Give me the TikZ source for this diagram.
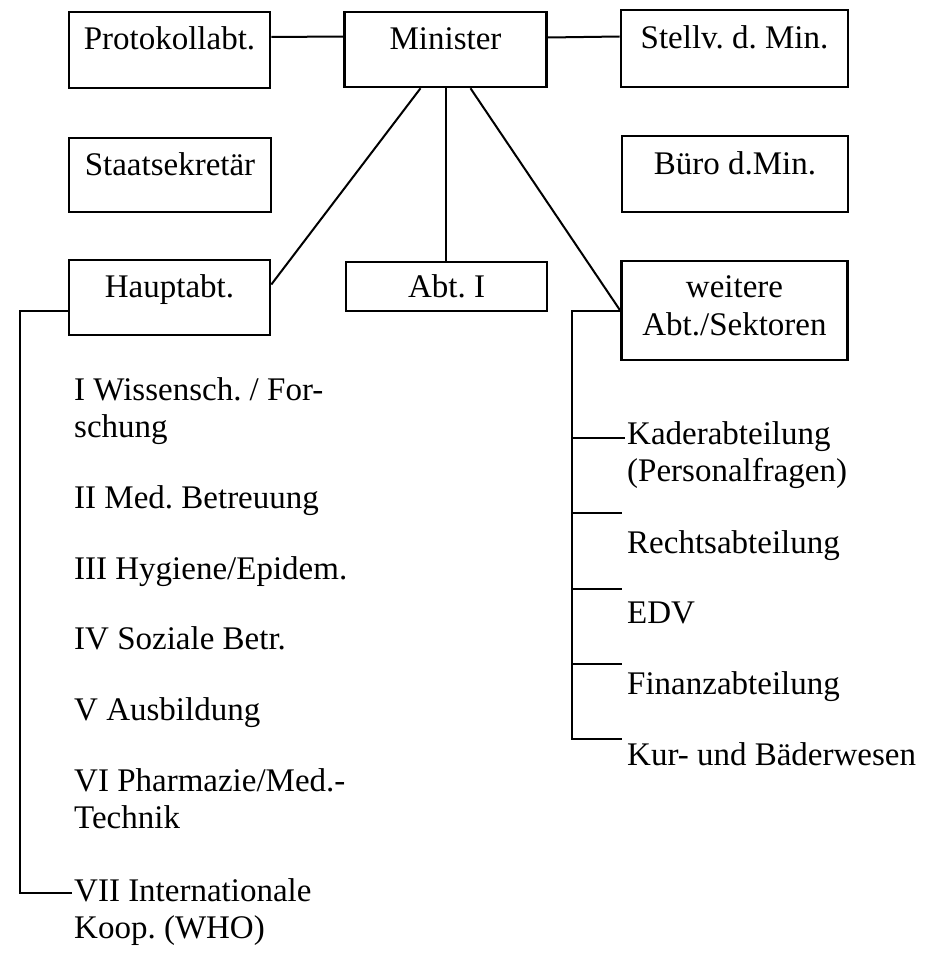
\documentclass[tikz,border=0pt]{standalone}
\usepackage{fontspec}
\setmainfont{Liberation Serif}
\frenchspacing
\usetikzlibrary{shapes}

\tikzset{
  unit/.style={rectangle, draw, line width=2.6pt, inner sep=0pt, font=\fontsize{33}{38}\selectfont},
  tall/.style={text height=#1, text depth=#1},
  item/.style={anchor=base west, align=left, inner sep=0pt, font=\fontsize{33}{37}\selectfont},
  link/.style={line width=2pt}
}

\begin{document}
\begin{tikzpicture}[x=1pt, y=-1pt]
  \useasboundingbox (0,0) rectangle (938,966);
  	\path (169.5,50) node[unit, tall=38pt, minimum width=201pt](prot){Protokollabt.}
  		(445.5,49.5) node[unit, tall=37.5pt, minimum width=202pt](min){Minister}
  		(734.5,48.5) node[unit, tall=38.5pt, minimum width=227pt](stv){Stellv. d. Min.}
  		(170,175) node[unit, tall=37pt, minimum width=202pt](sts){Staatsekret\"ar}
  		(735,174) node[unit, tall=38pt, minimum width=226pt](buero){B\"uro d.Min.}
  		(169.5,297.5) node[unit, tall=37.5pt, minimum width=201pt](haupt){Hauptabt.}
  		(446.5,286.5) node[unit, minimum width=201pt, minimum height=49pt](abt1){Abt. I}
  		(734.5,310.5) node[unit, align=center, text depth=10pt, minimum width=226pt, minimum height=99pt](weit){weitere\\Abt./Sektoren};

  	\path (74,437) node[item](wiss){I Wissensch. / For-\\schung}
			(74,508) node[item](med){II Med. Betreuung}
			(74,579) node[item](hyg){III Hygiene/Epidem.}
			(74,649) node[item](soz){IV Soziale Betr.}
			(74,720) node[item](ausb){V Ausbildung}
			(74,828) node[item](pharm){VI Pharmazie/Med.-\\Technik}
			(74,938) node[item](intl){VII Internationale\\Koop. (WHO)};

  	\path (627,481) node[item](kader){Kaderabteilung\\(Personalfragen)}
			(627,553) node[item](recht){Rechtsabteilung}
			(627,623) node[item](edv){EDV}
			(627,694) node[item](finanz){Finanzabteilung}
			(627,765) node[item](kur){Kur- und B\"aderwesen};

  	\path (20,893) coordinate(lbot)
			(72,893) coordinate(lend)
			(572,739) coordinate(rbot)
			(625,438) coordinate(tk1)
			(622,513) coordinate(tk2)
			(622,589) coordinate(tk3)
			(622,664) coordinate(tk4)
			(622,739) coordinate(tk5);

  	\draw[link]([yshift=13pt]prot.east) -- ([yshift=13pt]min.west);
  	\draw[link]([yshift=12pt]min.east) -- ([yshift=12pt]stv.west);
  	\draw[link]([xshift=-25pt]min.south) -- ([yshift=13pt]haupt.east);
  	\draw[link](min.south) -- (min.south |- abt1.north);
  	\draw[link]([xshift=25pt]min.south) -- (weit.west);
  	\draw[link]([yshift=-13pt]haupt.west) -| (lbot) -- (lend);
  	\draw[link](weit.west) -| (rbot) -- (tk5);
		\draw[link](rbot |- tk1) -- (tk1);
		\draw[link](rbot |- tk2) -- (tk2);
		\draw[link](rbot |- tk3) -- (tk3);
		\draw[link](rbot |- tk4) -- (tk4);
  \end{tikzpicture}
\end{document}
